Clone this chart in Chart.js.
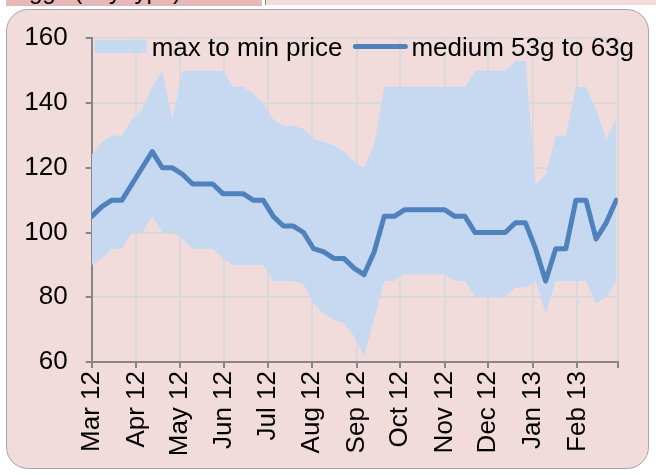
<!DOCTYPE html>
<html>
<head>
<meta charset="utf-8">
<title>Egg prices</title>
<script src="https://cdn.jsdelivr.net/npm/chart.js@4.4.0/dist/chart.umd.min.js"></script>
<style>
  html, body { margin: 0; padding: 0; background: #fff; }
  body { width: 656px; height: 475px; position: relative; overflow: hidden; font-family: "Liberation Sans", Arial, sans-serif; }
  .strip1 { position: absolute; left: 6px; top: 0; width: 256px; height: 6px; background: #e6b9b8; overflow: hidden; }
  .strip1 span { position: absolute; left: 7px; top: -21px; font-size: 24px; line-height: 24px; white-space: nowrap; }
  .strip2 { position: absolute; left: 265px; top: 0; width: 391px; height: 5px; background: #f2dcdb; border-left: 1px solid #888; }
  .box { position: absolute; left: 6px; top: 9px; width: 641px; height: 458px; border: 1.5px solid #a6a6a6; border-radius: 22px; background: #f2dcdb; }
  #wrap { position: absolute; left: 0; top: 0; width: 656px; height: 475px; }
</style>
</head>
<body>
<div class="strip1"><span>Eggs (any type)</span></div>
<div class="strip2"></div>
<div class="box"></div>
<div id="wrap"><canvas id="grafico" width="656" height="475"></canvas></div>

<script>
// ==============================
// DATOS
// ==============================

// semanas (fecha de cada punto)
const semanas = [
  "2012-03-01", "2012-03-08", "2012-03-15", "2012-03-22", "2012-03-29",
  "2012-04-05", "2012-04-12", "2012-04-19", "2012-04-26",
  "2012-05-03", "2012-05-10", "2012-05-17", "2012-05-24", "2012-05-31",
  "2012-06-07", "2012-06-14", "2012-06-21", "2012-06-28",
  "2012-07-05", "2012-07-12", "2012-07-19", "2012-07-26",
  "2012-08-02", "2012-08-09", "2012-08-16", "2012-08-23", "2012-08-30",
  "2012-09-06", "2012-09-13", "2012-09-20", "2012-09-27",
  "2012-10-04", "2012-10-11", "2012-10-18", "2012-10-25",
  "2012-11-01", "2012-11-08", "2012-11-15", "2012-11-22", "2012-11-29",
  "2012-12-06", "2012-12-13", "2012-12-20", "2012-12-27",
  "2013-01-03", "2013-01-10", "2013-01-17", "2013-01-24", "2013-01-31",
  "2013-02-07", "2013-02-14", "2013-02-21", "2013-02-28"
];

// precio máximo
const precioMax = [
  124, 128, 130, 130, 135, 138, 145, 150, 135, 150, 150, 150, 150,
  150, 145, 145, 143, 140, 135, 133, 133, 132, 129, 128, 127, 125,
  122, 120, 127, 145, 145, 145, 145, 145, 145, 145, 145, 145, 150,
  150, 150, 150, 153, 153, 115, 118, 130, 130, 145, 145, 138, 129, 135
];

// precio mínimo
const precioMin = [
  90, 92, 95, 95, 100, 100, 105, 100, 100, 98, 95, 95, 95,
  92, 90, 90, 90, 90, 85, 85, 85, 84, 78, 75, 73, 72,
  68, 62, 73, 85, 85, 87, 87, 87, 87, 87, 85, 85, 80,
  80, 80, 80, 83, 83, 85, 75, 85, 85, 85, 85, 78, 80, 85
];

// medium 53g a 63g
const precioMedium = [
  105, 108, 110, 110, 115, 120, 125, 120, 120, 118, 115, 115, 115,
  112, 112, 112, 110, 110, 105, 102, 102, 100, 95, 94, 92, 92,
  89, 87, 94, 105, 105, 107, 107, 107, 107, 107, 105, 105, 100,
  100, 100, 100, 103, 103, 95, 85, 95, 95, 110, 110, 98, 103, 110
];

// eje X: inicio de cada mes
const iniciosMes = [
  "2012-03-01", "2012-04-01", "2012-05-01", "2012-06-01", "2012-07-01", "2012-08-01",
  "2012-09-01", "2012-10-01", "2012-11-01", "2012-12-01", "2013-01-01", "2013-02-01",
  "2013-03-01"
];
const etiquetasMes = [
  "Mar 12", "Apr 12", "May 12", "Jun 12", "Jul 12", "Aug 12",
  "Sep 12", "Oct 12", "Nov 12", "Dec 12", "Jan 13", "Feb 13", ""
];

const leyenda = ["max to min price", "medium 53g to 63g"];

// ==============================
// AYUDAS
// ==============================
const inicio = Date.UTC(2012, 2, 1);
function dia(fecha) {
  const [a, m, d] = fecha.split("-").map(Number);
  return Math.round((Date.UTC(a, m - 1, d) - inicio) / 86400000);
}
const diasSemana = semanas.map(dia);
const diasMes = iniciosMes.map(dia);
const puntos = serie => serie.map((v, i) => ({ x: diasSemana[i], y: v }));

const colorBanda = "#c6d9f1";
const colorLinea = "#4f81bd";
const fuente = { family: "'Liberation Sans', Arial, sans-serif", size: 26 };

// leyenda dentro del área del gráfico
const leyendaInterna = {
  id: "leyendaInterna",
  afterDraw(chart) {
    const ctx = chart.ctx;
    const x0 = chart.chartArea.left + 3;
    const yBase = 56;
    ctx.save();
    ctx.font = "26px 'Liberation Sans', Arial, sans-serif";
    ctx.textBaseline = "alphabetic";
    ctx.fillStyle = colorBanda;
    ctx.fillRect(x0, 40, 52, 13);
    ctx.fillStyle = "#000";
    ctx.fillText(leyenda[0], x0 + 57, yBase);
    const x1 = x0 + 57 + ctx.measureText(leyenda[0]).width + 11;
    ctx.strokeStyle = colorLinea;
    ctx.lineWidth = 5;
    ctx.lineCap = "round";
    ctx.beginPath();
    ctx.moveTo(x1 + 2, 46.5);
    ctx.lineTo(x1 + 52, 46.5);
    ctx.stroke();
    ctx.fillText(leyenda[1], x1 + 58, yBase);
    ctx.restore();
  }
};

// ==============================
// GRÁFICO
// ==============================
const ctxGrafico = document.getElementById("grafico").getContext("2d");

new Chart(ctxGrafico, {
  type: "line",
  data: {
    datasets: [
      {
        label: "max",
        data: puntos(precioMax),
        borderWidth: 0,
        borderColor: colorBanda,
        backgroundColor: colorBanda,
        pointRadius: 0,
        fill: "+1",
        order: 1
      },
      {
        label: "min",
        data: puntos(precioMin),
        borderWidth: 0,
        borderColor: colorBanda,
        pointRadius: 0,
        fill: false,
        order: 2
      },
      {
        label: leyenda[1],
        data: puntos(precioMedium),
        borderColor: colorLinea,
        borderWidth: 5,
        borderJoinStyle: "round",
        borderCapStyle: "round",
        pointRadius: 0,
        fill: false,
        order: 0
      }
    ]
  },
  options: {
    responsive: false,
    animation: false,
    layout: { padding: { left: 21.7, top: 38.3, right: 38.3, bottom: 0 } },
    plugins: {
      legend: { display: false },
      tooltip: { enabled: false }
    },
    scales: {
      x: {
        type: "linear",
        min: 0,
        max: 365,
        afterBuildTicks: s => { s.ticks = diasMes.map(v => ({ value: v })); },
        afterFit: s => { s.height = 113; },
        grid: { color: "#d9d9d9", lineWidth: 2, tickColor: "#868686", tickLength: 6 },
        border: { color: "#868686", width: 2 },
        ticks: {
          autoSkip: false,
          minRotation: 90,
          maxRotation: 90,
          padding: 3,
          color: "#000",
          font: fuente,
          callback: (v, i) => etiquetasMes[i]
        }
      },
      y: {
        min: 60,
        max: 160,
        afterFit: s => { s.width = 70; },
        grid: { color: "#d9d9d9", lineWidth: 2, tickColor: "#868686", tickLength: 6 },
        border: { color: "#868686", width: 2 },
        ticks: { stepSize: 20, padding: 18, color: "#000", font: fuente }
      }
    }
  },
  plugins: [leyendaInterna]
});
</script>
</body>
</html>
